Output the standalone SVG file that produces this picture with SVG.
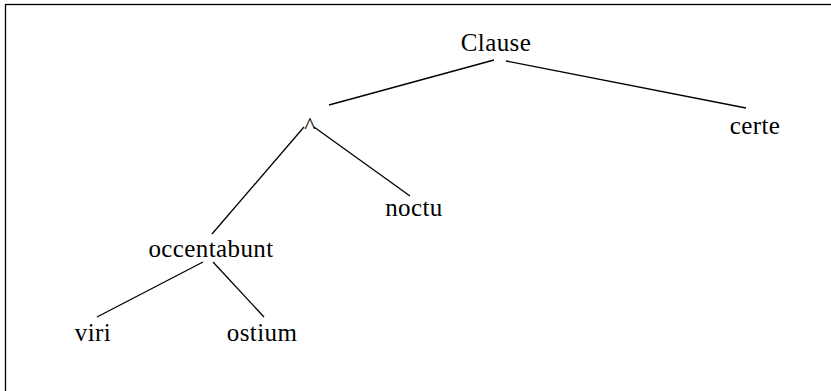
<svg xmlns="http://www.w3.org/2000/svg" width="831" height="391" viewBox="0 0 831 391">
<style>
text{font-family:'Liberation Serif','Times New Roman',serif;font-size:25px;letter-spacing:0.4px;fill:#000;text-anchor:middle}
.edge{stroke:#000;stroke-width:1.3;fill:none}
</style>
<rect x="0" y="0" width="831" height="391" fill="#fff"/>
<rect x="5.5" y="4.5" width="840" height="400" fill="none" stroke="#000" stroke-width="1.3"/>
<g id="connectors">
<line class="edge" x1="494" y1="60" x2="329" y2="105"/>
<line class="edge" x1="506" y1="61" x2="746" y2="108"/>
<line class="edge" x1="304" y1="127" x2="212" y2="234"/>
<line class="edge" x1="314" y1="127" x2="410" y2="196"/>
<line class="edge" x1="203" y1="262" x2="97" y2="317"/>
<line class="edge" x1="213" y1="262" x2="264" y2="317"/>
</g>
<g id="node-clause"><text x="496" y="51">Clause</text></g>
<g id="node-wedge"><text x="310" y="133" style="font-size:24px;letter-spacing:0">^</text></g>
<g id="node-certe"><text x="755" y="134">certe</text></g>
<g id="node-noctu"><text x="414" y="216">noctu</text></g>
<g id="node-occentabunt"><text x="211" y="257">occentabunt</text></g>
<g id="node-viri"><text x="93" y="341">viri</text></g>
<g id="node-ostium"><text x="262" y="341">ostium</text></g>
</svg>
